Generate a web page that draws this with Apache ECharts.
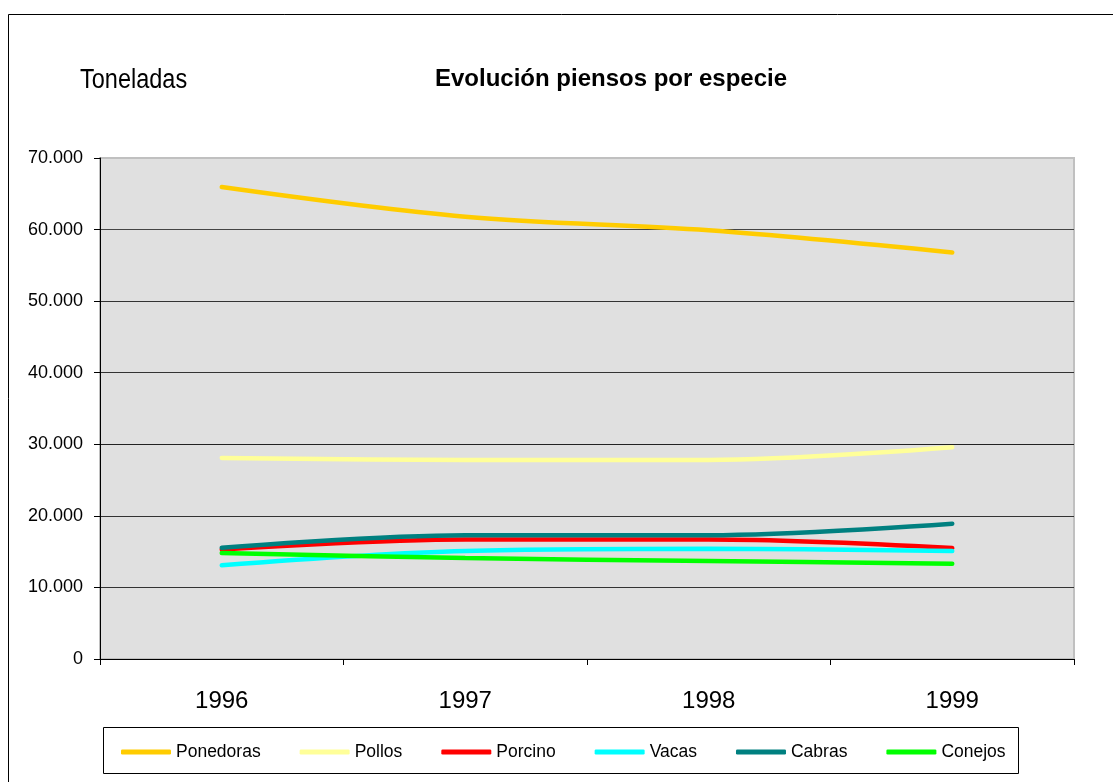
<!DOCTYPE html>
<html><head><meta charset="utf-8">
<script src="https://cdn.jsdelivr.net/npm/echarts@6/dist/echarts.min.js"></script>
<style>html,body{margin:0;padding:0;background:#fff}#c{width:1113px;height:782px}</style>
</head><body><div id="c"></div>
<script>
var years = ['1996', '1997', '1998', '1999'];
var ponedoras = [65950, 61800, 59900, 56800];
var pollos = [28100, 27800, 27800, 29600];
var porcino = [15300, 16700, 16700, 15500];
var vacas = [13100, 15100, 15400, 15100];
var cabras = [15550, 17300, 17300, 18900];
var conejos = [14800, 14100, 13700, 13300];
var seriesNames = ['Ponedoras', 'Pollos', 'Porcino', 'Vacas', 'Cabras', 'Conejos'];
var seriesData = [ponedoras, pollos, porcino, vacas, cabras, conejos];
var colors = ['#FFCC00', '#FFFF99', '#FF0000', '#00FFFF', '#008080', '#00FF00'];
var yTicks = [0, 10000, 20000, 30000, 40000, 50000, 60000, 70000];

var chart = echarts.init(document.getElementById('c'));
var sans = '"Liberation Sans", Arial, sans-serif';
chart.setOption({
  animation: false,
  backgroundColor: '#fff',
  color: colors,
  title: {
    text: 'Evolución piensos por especie',
    left: 606, top: 62, textAlign: 'center',
    textStyle: { fontFamily: sans, fontSize: 24, fontWeight: 'bold', color: '#000' }
  },
  graphic: [
    { type: 'rect', shape: { x: 8.5, y: 14.5, width: 1300, height: 900 }, style: { fill: 'none', stroke: '#000', lineWidth: 1 }, z: -1 },
    { type: 'text', x: 80, y: 66, scaleY: 1.18, style: { text: 'Toneladas', font: '23.5px ' + sans, fill: '#000' } },
    { type: 'rect', shape: { x: 103.5, y: 727.5, width: 915, height: 46 }, style: { fill: 'none', stroke: '#000', lineWidth: 1 } }
  ],
  legend: {
    left: 121, top: 743, padding: 0,
    itemWidth: 50, itemHeight: 5, itemGap: 39,
    icon: 'roundRect',
    textStyle: { fontFamily: sans, fontSize: 17.5, color: '#000' },
    data: seriesNames
  },
  grid: {
    left: 100, right: 39, top: 158, bottom: 123,
    show: true, backgroundColor: '#E0E0E0', borderColor: '#C0C0C0', borderWidth: 2
  },
  xAxis: {
    type: 'category', data: years, boundaryGap: true,
    axisLine: { lineStyle: { color: '#000', width: 1 } },
    axisTick: { show: true, length: 6, lineStyle: { color: '#000' } },
    axisLabel: { margin: 30, fontFamily: sans, fontSize: 24, color: '#000' }
  },
  yAxis: {
    type: 'value', min: 0, max: 70000, interval: 10000,
    axisLine: { show: true, lineStyle: { color: '#000', width: 1 } },
    axisTick: { show: true, length: 6, lineStyle: { color: '#000' } },
    axisLabel: {
      margin: 17, fontFamily: sans, fontSize: 18, color: '#000',
      formatter: function (v) { return v === 0 ? '0' : (v / 1000).toFixed(0) + '.000'; }
    },
    splitLine: { show: true, lineStyle: { color: ['#000', '#333', '#333', '#222', '#333', '#333', '#444', '#C0C0C0'], width: 1 } }
  },
  series: seriesNames.map(function (n, i) {
    return {
      name: n, type: 'line', data: seriesData[i],
      smooth: 0.35, showSymbol: false, symbol: 'none',
      lineStyle: { width: 4.5, color: colors[i], cap: 'round' },
      itemStyle: { color: colors[i] }
    };
  })
});
</script>
</body></html>
